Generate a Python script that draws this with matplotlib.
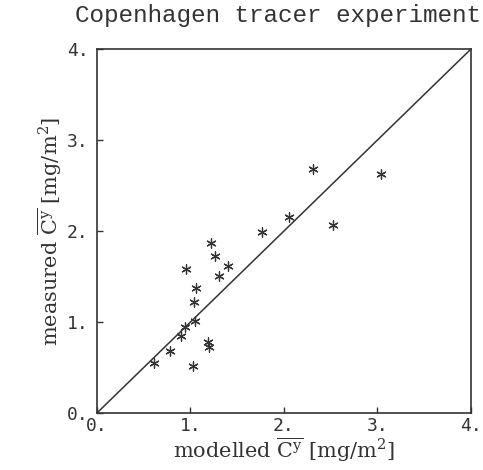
import matplotlib
matplotlib.use("Agg")
import matplotlib.pyplot as plt

# values (modelled vs measured)
modelled = [1.22, 1.26, 0.95, 1.40, 1.31, 1.06, 1.04, 1.76, 2.31, 3.04,
            2.05, 2.52, 1.05, 0.94, 0.90, 1.19, 1.20, 0.78, 0.61, 1.03]
measured = [1.87, 1.72, 1.58, 1.61, 1.51, 1.37, 1.22, 1.99, 2.68, 2.63,
            2.15, 2.07, 1.01, 0.94, 0.85, 0.78, 0.73, 0.68, 0.55, 0.52]
ticks = [0, 1, 2, 3, 4]
tick_labels = ["0.", "1.", "2.", "3.", "4."]

plt.rcParams['mathtext.fontset'] = 'dejavuserif'
ink = '#333333'

fig = plt.figure(figsize=(4.83, 4.70), dpi=100)
ax = fig.add_axes([0.2008, 0.1213, 0.7743, 0.7744])

ax.plot([0, 4], [0, 4], color=ink, lw=1.1)
ax.scatter(modelled, measured, marker=(6, 2, 0), s=45, color=ink, linewidths=0.9)

ax.set_xlim(0, 4)
ax.set_ylim(0, 4)
ax.set_xticks(ticks)
ax.set_yticks(ticks)
ax.set_xticklabels(tick_labels, family='DejaVu Sans Mono', fontsize=13, color=ink)
ax.set_yticklabels(tick_labels, family='DejaVu Sans Mono', fontsize=13, color=ink)
ax.tick_params(direction='in', length=4, width=1, color=ink, pad=6)
ax.tick_params(axis='x', pad=3)
for s in ax.spines.values():
    s.set_color(ink)
    s.set_linewidth(1.2)

lab = r'$\overline{\mathrm{C}^{\mathrm{y}}}$ [mg/m$^{\mathrm{2}}$]'
ax.set_xlabel('modelled ' + lab, family='DejaVu Serif', fontsize=15, color=ink, labelpad=0)
ax.set_ylabel('measured ' + lab, family='DejaVu Serif', fontsize=15, color=ink, labelpad=2)
fig.text(0.995, 0.992, 'Copenhagen tracer experiment', family='Liberation Mono',
         fontsize=17.5, color=ink, ha='right', va='top')

fig.savefig('out.png', dpi=100)
